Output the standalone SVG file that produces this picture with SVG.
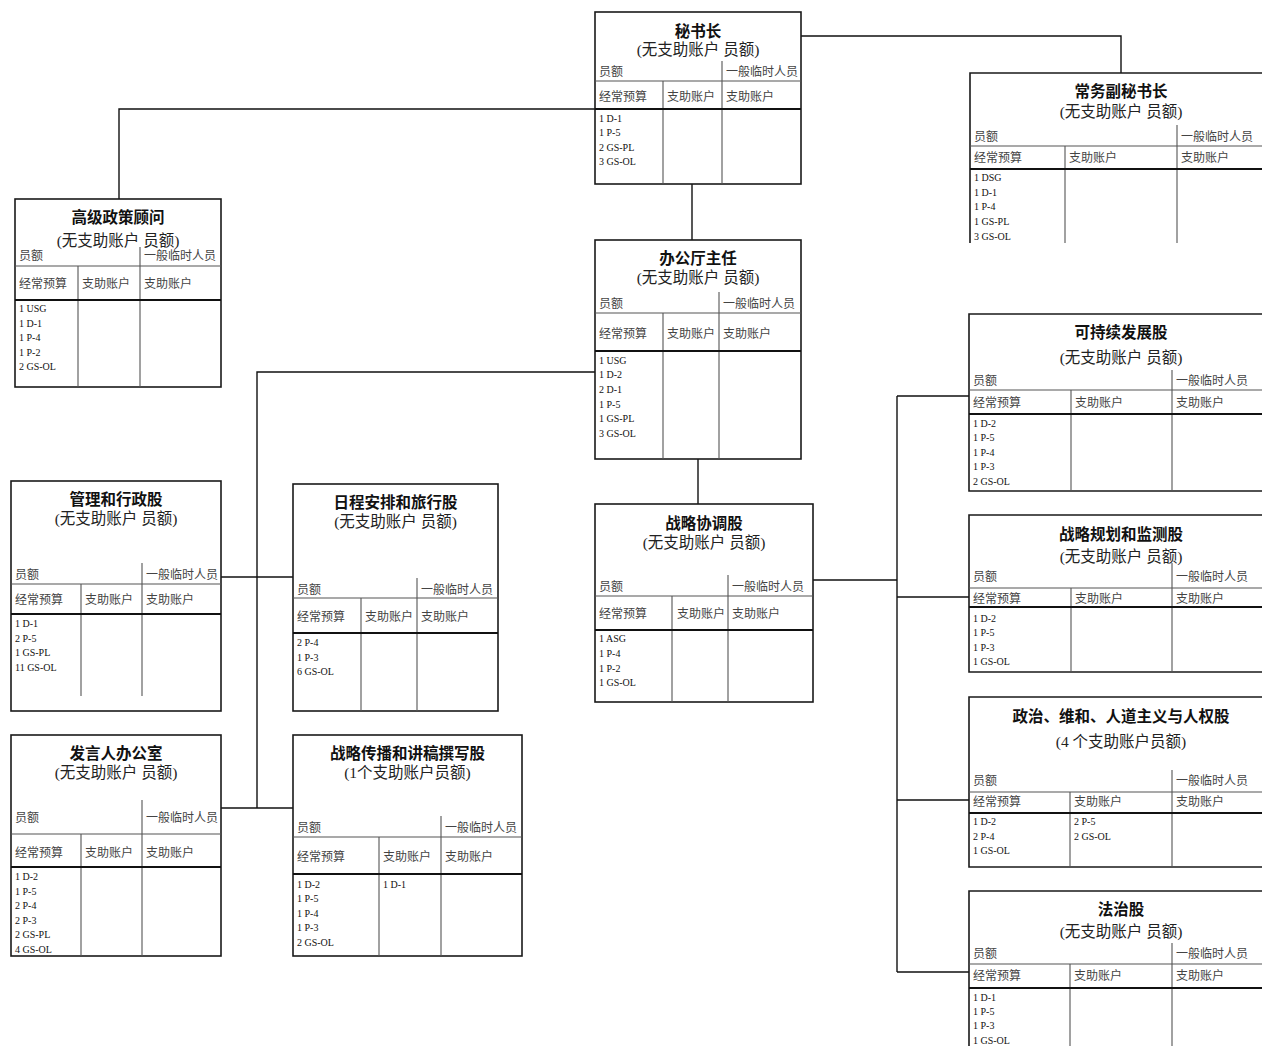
<svg xmlns="http://www.w3.org/2000/svg" width="1262" height="1046" viewBox="0 0 1262 1046">
<style>
.bg{fill:#fff}
.box{fill:#fff;stroke:#1a1a1a;stroke-width:1.6}
.ln{fill:none;stroke:#555;stroke-width:1.1}
.thk{fill:none;stroke:#111;stroke-width:2.2}
.conn{fill:none;stroke:#111;stroke-width:1.4}
.t{font-family:"Noto Sans CJK SC","Liberation Sans",sans-serif;font-size:15.5px;font-weight:bold;text-anchor:middle;fill:#111}
.s{font-family:"Liberation Serif","Noto Sans CJK SC",serif;font-size:15.5px;text-anchor:middle;fill:#222}
.h{font-family:"Noto Sans CJK SC","Liberation Sans",sans-serif;font-size:12px;fill:#444}
.d{font-family:"Liberation Serif",serif;font-size:10px;fill:#111}
</style>
<rect class="bg" x="0" y="0" width="1262" height="1046"/>

<g id="connectors">
<path class="conn" d="M801,36H1121V73"/>
<path class="conn" d="M595,109H119V199"/>
<path class="conn" d="M692,184V240"/>
<path class="conn" d="M595,372H257V808"/>
<path class="conn" d="M221,577H293"/>
<path class="conn" d="M221,808H293"/>
<path class="conn" d="M698,459V504"/>
<path class="conn" d="M813,580H897"/>
<path class="conn" d="M897,396V972"/>
<path class="conn" d="M897,396H969M897,597H969M897,800H969M897,972H969"/>
</g>

<g id="n-sg">
<rect class="box" x="595" y="12" width="206" height="172"/>
<text class="t" x="698" y="37">秘书长</text>
<text class="s" x="698" y="55">(无支助账户 员额)</text>
<path class="ln" d="M722,61V184M595,81H801M663,81V184"/>
<path class="thk" d="M595,109H801"/>
<text class="h" x="599" y="75.5">员额</text>
<text class="h" x="726" y="75.5">一般临时人员</text>
<text class="h" x="599" y="100.5">经常预算</text>
<text class="h" x="667" y="100.5">支助账户</text>
<text class="h" x="726" y="100.5">支助账户</text>
<text class="d" x="599"><tspan x="599" y="121.5">1 D-1</tspan><tspan x="599" y="135.5">1 P-5</tspan><tspan x="599" y="150.5">2 GS-PL</tspan><tspan x="599" y="164.5">3 GS-OL</tspan></text>
</g>

<g id="n-dsg">
<path class="box" d="M1272,73H970V243"/>
<text class="t" x="1121" y="97">常务副秘书长</text>
<text class="s" x="1121" y="117">(无支助账户 员额)</text>
<path class="ln" d="M1177,125V243M970,146H1272M1065,146V243"/>
<path class="thk" d="M970,169H1272"/>
<text class="h" x="974" y="140.5">员额</text>
<text class="h" x="1181" y="140.5">一般临时人员</text>
<text class="h" x="974" y="161.5">经常预算</text>
<text class="h" x="1069" y="161.5">支助账户</text>
<text class="h" x="1181" y="161.5">支助账户</text>
<text class="d"><tspan x="974" y="180.5">1 DSG</tspan><tspan x="974" y="195.5">1 D-1</tspan><tspan x="974" y="209.5">1 P-4</tspan><tspan x="974" y="224.5">1 GS-PL</tspan><tspan x="974" y="239.5">3 GS-OL</tspan></text>
</g>

<g id="n-spa">
<rect class="box" x="15" y="199" width="206" height="188"/>
<text class="t" x="118" y="223">高级政策顾问</text>
<text class="s" x="118" y="245.5">(无支助账户 员额)</text>
<path class="ln" d="M140,247V387M15,266H221M78,266V387"/>
<path class="thk" d="M15,300H221"/>
<text class="h" x="19" y="259.5">员额</text>
<text class="h" x="144" y="260">一般临时人员</text>
<text class="h" x="19" y="287.5">经常预算</text>
<text class="h" x="82" y="287.5">支助账户</text>
<text class="h" x="144" y="287.5">支助账户</text>
<text class="d"><tspan x="19" y="311.5">1 USG</tspan><tspan x="19" y="326.5">1 D-1</tspan><tspan x="19" y="340.5">1 P-4</tspan><tspan x="19" y="355.5">1 P-2</tspan><tspan x="19" y="369.5">2 GS-OL</tspan></text>
</g>

<g id="n-cab">
<rect class="box" x="595" y="240" width="206" height="219"/>
<text class="t" x="698" y="264">办公厅主任</text>
<text class="s" x="698" y="283">(无支助账户 员额)</text>
<path class="ln" d="M719,292V459M595,313H801M663,313V459"/>
<path class="thk" d="M595,351H801"/>
<text class="h" x="599" y="307.5">员额</text>
<text class="h" x="723" y="307.5">一般临时人员</text>
<text class="h" x="599" y="337.5">经常预算</text>
<text class="h" x="667" y="337.5">支助账户</text>
<text class="h" x="723" y="337.5">支助账户</text>
<text class="d"><tspan x="599" y="363.5">1 USG</tspan><tspan x="599" y="377.5">1 D-2</tspan><tspan x="599" y="392.5">2 D-1</tspan><tspan x="599" y="407.5">1 P-5</tspan><tspan x="599" y="421.5">1 GS-PL</tspan><tspan x="599" y="436.5">3 GS-OL</tspan></text>
</g>

<g id="n-adm">
<rect class="box" x="11" y="481" width="210" height="230"/>
<text class="t" x="116" y="505">管理和行政股</text>
<text class="s" x="116" y="524">(无支助账户 员额)</text>
<path class="ln" d="M142,563V696M11,584H221M81,584V696"/>
<path class="thk" d="M11,614H221"/>
<text class="h" x="15" y="578.5">员额</text>
<text class="h" x="146" y="578.5">一般临时人员</text>
<text class="h" x="15" y="603.5">经常预算</text>
<text class="h" x="85" y="603.5">支助账户</text>
<text class="h" x="146" y="603.5">支助账户</text>
<text class="d"><tspan x="15" y="626.5">1 D-1</tspan><tspan x="15" y="641.5">2 P-5</tspan><tspan x="15" y="655.5">1 GS-PL</tspan><tspan x="15" y="670.5">11 GS-OL</tspan></text>
</g>

<g id="n-sched">
<rect class="box" x="293" y="484" width="205" height="227"/>
<text class="t" x="395.5" y="508">日程安排和旅行股</text>
<text class="s" x="395.5" y="527">(无支助账户 员额)</text>
<path class="ln" d="M417,578V711M293,598H498M361,598V711"/>
<path class="thk" d="M293,633H498"/>
<text class="h" x="297" y="593.5">员额</text>
<text class="h" x="421" y="593.5">一般临时人员</text>
<text class="h" x="297" y="620.5">经常预算</text>
<text class="h" x="365" y="620.5">支助账户</text>
<text class="h" x="421" y="620.5">支助账户</text>
<text class="d"><tspan x="297" y="645.5">2 P-4</tspan><tspan x="297" y="660.5">1 P-3</tspan><tspan x="297" y="674.5">6 GS-OL</tspan></text>
</g>

<g id="n-scu">
<rect class="box" x="595" y="504" width="218" height="198"/>
<text class="t" x="704" y="529">战略协调股</text>
<text class="s" x="704" y="548">(无支助账户 员额)</text>
<path class="ln" d="M728,575V702M595,596H813M672,596V702"/>
<path class="thk" d="M595,630H813"/>
<text class="h" x="599" y="590.5">员额</text>
<text class="h" x="732" y="590.5">一般临时人员</text>
<text class="h" x="599" y="617.5">经常预算</text>
<text class="h" x="677" y="617.5">支助账户</text>
<text class="h" x="732" y="617.5">支助账户</text>
<text class="d"><tspan x="599" y="641.5">1 ASG</tspan><tspan x="599" y="656.5">1 P-4</tspan><tspan x="599" y="671.5">1 P-2</tspan><tspan x="599" y="685.5">1 GS-OL</tspan></text>
</g>

<g id="n-sdu">
<path class="box" d="M1272,314H969V491H1272"/>
<text class="t" x="1121" y="338">可持续发展股</text>
<text class="s" x="1121" y="363">(无支助账户 员额)</text>
<path class="ln" d="M1172,370V491M969,390H1272M1071,390V491"/>
<path class="thk" d="M969,414H1272"/>
<text class="h" x="973" y="384.5">员额</text>
<text class="h" x="1176" y="384.5">一般临时人员</text>
<text class="h" x="973" y="406.5">经常预算</text>
<text class="h" x="1075" y="406.5">支助账户</text>
<text class="h" x="1176" y="406.5">支助账户</text>
<text class="d"><tspan x="973" y="426.5">1 D-2</tspan><tspan x="973" y="440.5">1 P-5</tspan><tspan x="973" y="455.5">1 P-4</tspan><tspan x="973" y="469.5">1 P-3</tspan><tspan x="973" y="484.5">2 GS-OL</tspan></text>
</g>

<g id="n-spk">
<rect class="box" x="11" y="735" width="210" height="221"/>
<text class="t" x="116" y="759">发言人办公室</text>
<text class="s" x="116" y="778">(无支助账户 员额)</text>
<path class="ln" d="M142,800V956M11,834H221M81,834V956"/>
<path class="thk" d="M11,867H221"/>
<text class="h" x="15" y="821.5">员额</text>
<text class="h" x="146" y="821.5">一般临时人员</text>
<text class="h" x="15" y="856.5">经常预算</text>
<text class="h" x="85" y="856.5">支助账户</text>
<text class="h" x="146" y="856.5">支助账户</text>
<text class="d"><tspan x="15" y="879.5">1 D-2</tspan><tspan x="15" y="894.5">1 P-5</tspan><tspan x="15" y="908.5">2 P-4</tspan><tspan x="15" y="923.5">2 P-3</tspan><tspan x="15" y="937.5">2 GS-PL</tspan><tspan x="15" y="952.5">4 GS-OL</tspan></text>
</g>

<g id="n-comm">
<rect class="box" x="293" y="735" width="229" height="221"/>
<text class="t" x="407.5" y="759">战略传播和讲稿撰写股</text>
<text class="s" x="407.5" y="778">(1个支助账户员额)</text>
<path class="ln" d="M441,816V956M293,837H522M379,837V956"/>
<path class="thk" d="M293,874H522"/>
<text class="h" x="297" y="831.5">员额</text>
<text class="h" x="445" y="831.5">一般临时人员</text>
<text class="h" x="297" y="860.5">经常预算</text>
<text class="h" x="383" y="860.5">支助账户</text>
<text class="h" x="445" y="860.5">支助账户</text>
<text class="d"><tspan x="297" y="887.5">1 D-2</tspan><tspan x="297" y="901.5">1 P-5</tspan><tspan x="297" y="916.5">1 P-4</tspan><tspan x="297" y="930.5">1 P-3</tspan><tspan x="297" y="945.5">2 GS-OL</tspan></text>
<text class="d" x="383" y="887.5">1 D-1</text>
</g>

<g id="n-spm">
<path class="box" d="M1272,515H969V672H1272"/>
<text class="t" x="1121" y="540">战略规划和监测股</text>
<text class="s" x="1121" y="562">(无支助账户 员额)</text>
<path class="ln" d="M1172,563V672M969,588H1272M1071,588V672"/>
<path class="thk" d="M969,607H1272"/>
<text class="h" x="973" y="580.5">员额</text>
<text class="h" x="1176" y="580.5">一般临时人员</text>
<text class="h" x="973" y="602.5">经常预算</text>
<text class="h" x="1075" y="602.5">支助账户</text>
<text class="h" x="1176" y="602.5">支助账户</text>
<text class="d"><tspan x="973" y="621.5">1 D-2</tspan><tspan x="973" y="635.5">1 P-5</tspan><tspan x="973" y="650.5">1 P-3</tspan><tspan x="973" y="664.5">1 GS-OL</tspan></text>
</g>

<g id="n-pol">
<path class="box" d="M1272,697H969V867H1272"/>
<text class="t" x="1121" y="722">政治、维和、人道主义与人权股</text>
<text class="s" x="1121" y="747">(4 个支助账户员额)</text>
<path class="ln" d="M1172,770V867M969,792H1272M1070,792V867"/>
<path class="thk" d="M969,813H1272"/>
<text class="h" x="973" y="784.5">员额</text>
<text class="h" x="1176" y="784.5">一般临时人员</text>
<text class="h" x="973" y="805.5">经常预算</text>
<text class="h" x="1074" y="805.5">支助账户</text>
<text class="h" x="1176" y="805.5">支助账户</text>
<text class="d"><tspan x="973" y="824.5">1 D-2</tspan><tspan x="973" y="839.5">2 P-4</tspan><tspan x="973" y="853.5">1 GS-OL</tspan></text>
<text class="d"><tspan x="1074" y="824.5">2 P-5</tspan><tspan x="1074" y="839.5">2 GS-OL</tspan></text>
</g>

<g id="n-rol">
<path class="box" d="M1272,891H969V1050"/>
<text class="t" x="1121" y="915">法治股</text>
<text class="s" x="1121" y="937">(无支助账户 员额)</text>
<path class="ln" d="M1172,943V1050M969,964H1272M1070,964V1050"/>
<path class="thk" d="M969,988H1272"/>
<text class="h" x="973" y="957.5">员额</text>
<text class="h" x="1176" y="957.5">一般临时人员</text>
<text class="h" x="973" y="979.5">经常预算</text>
<text class="h" x="1074" y="979.5">支助账户</text>
<text class="h" x="1176" y="979.5">支助账户</text>
<text class="d"><tspan x="973" y="1000.5">1 D-1</tspan><tspan x="973" y="1014.5">1 P-5</tspan><tspan x="973" y="1028.5">1 P-3</tspan><tspan x="973" y="1043.5">1 GS-OL</tspan></text>
</g>
</svg>
